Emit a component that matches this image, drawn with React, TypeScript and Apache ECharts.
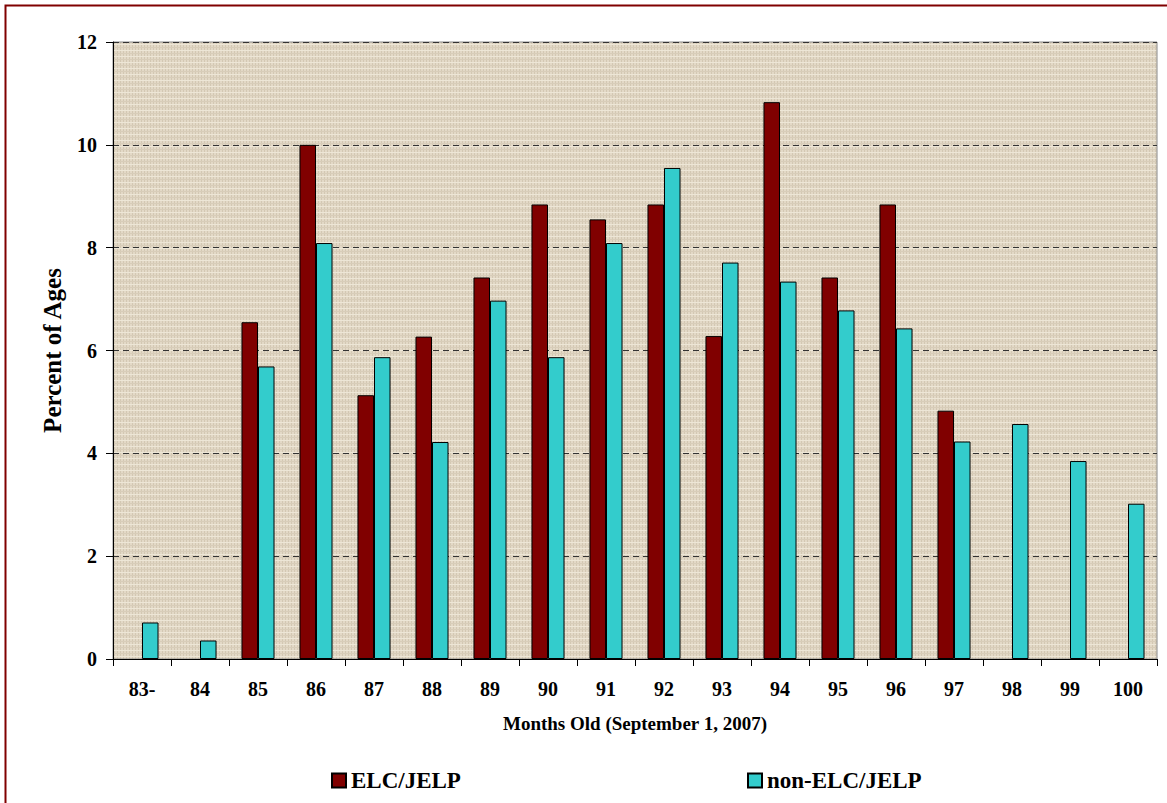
import React, { useEffect, useRef } from "react";
import * as echarts from "echarts";

const categories = ["83-", "84", "85", "86", "87", "88", "89", "90", "91", "92", "93", "94", "95", "96", "97", "98", "99", "100"];
const elcValues: (number | null)[] = [null, null, 6.55, 10.0, 5.13, 6.27, 7.42, 8.84, 8.55, 8.84, 6.28, 10.83, 7.42, 8.84, 4.83, null, null, null];
const nonElcValues: number[] = [0.71, 0.36, 5.69, 8.09, 5.87, 4.22, 6.97, 5.87, 8.09, 9.55, 7.71, 7.34, 6.78, 6.43, 4.23, 4.57, 3.85, 3.02];
const yTicks = { min: 0, max: 12, interval: 2 };
const seriesNames = ["ELC/JELP", "non-ELC/JELP"];
const xAxisTitle = "Months Old (September 1, 2007)";
const yAxisTitle = "Percent of Ages";

const FONT = "'Liberation Serif', 'Times New Roman', serif";

function makeTexture(): HTMLCanvasElement | string {
  try {
    const c = document.createElement("canvas");
    c.width = 6;
    c.height = 6;
    const ctx = c.getContext("2d");
    if (!ctx) return "#E2D8C5";
    ctx.fillStyle = "#E3D9C7";
    ctx.fillRect(0, 0, 6, 6);
    ctx.fillStyle = "#D3C8B3";
    ctx.fillRect(0, 0, 1, 6);
    ctx.fillRect(3, 0, 1, 6);
    ctx.fillStyle = "#EDE6D6";
    ctx.fillRect(0, 2, 6, 1);
    ctx.fillStyle = "#D8CDB9";
    ctx.fillRect(0, 5, 6, 1);
    return c;
  } catch (e) {
    return "#E2D8C5";
  }
}

export default function App() {
  const ref = useRef<HTMLDivElement>(null);
  useEffect(() => {
    if (!ref.current) return;
    const chart = echarts.init(ref.current, null, { renderer: "svg" });
    const tex = makeTexture();
    const bg = typeof tex === "string" ? tex : { image: tex, repeat: "repeat" };
    chart.setOption({
      animation: false,
      backgroundColor: "#ffffff",
      textStyle: { fontFamily: FONT },
      graphic: [
        {
          type: "rect",
          shape: { x: 5.5, y: 5.5, width: 1300, height: 1000 },
          style: { fill: "none", stroke: "#800000", lineWidth: 2 },
          silent: true,
          z: 100,
        },
      ],
      grid: {
        left: 113,
        right: 10,
        top: 42,
        bottom: 144,
        show: true,
        backgroundColor: bg,
        borderColor: "#888888",
        borderWidth: 1,
      },
      legend: [
        {
          data: [seriesNames[0]],
          left: 326,
          top: 764,
          itemWidth: 14,
          itemHeight: 14,
          icon: "rect",
          textStyle: { fontFamily: FONT, fontWeight: "bold", fontSize: 23, color: "#000" },
          itemGap: 6,
        },
        {
          data: [seriesNames[1]],
          left: 742,
          top: 764,
          itemWidth: 14,
          itemHeight: 14,
          icon: "rect",
          textStyle: { fontFamily: FONT, fontWeight: "bold", fontSize: 23, color: "#000" },
          itemGap: 6,
        },
      ],
      xAxis: {
        type: "category",
        data: categories,
        name: xAxisTitle,
        nameLocation: "middle",
        nameGap: 55,
        nameTextStyle: { fontFamily: FONT, fontWeight: "bold", fontSize: 19, color: "#000" },
        axisLine: { lineStyle: { color: "#000", width: 1 } },
        axisTick: { show: true, alignWithLabel: false, length: 7, lineStyle: { color: "#000" } },
        axisLabel: { fontFamily: FONT, fontWeight: "bold", fontSize: 20, color: "#000", margin: 20, interval: 0 },
        splitLine: { show: false },
      },
      yAxis: {
        type: "value",
        min: yTicks.min,
        max: yTicks.max,
        interval: yTicks.interval,
        name: yAxisTitle,
        nameLocation: "middle",
        nameGap: 48,
        nameTextStyle: { fontFamily: FONT, fontWeight: "bold", fontSize: 25, color: "#000" },
        axisLine: { show: true, lineStyle: { color: "#000", width: 1 } },
        axisTick: { show: true, length: 7, lineStyle: { color: "#000" } },
        axisLabel: { fontFamily: FONT, fontWeight: "bold", fontSize: 20, color: "#000", margin: 16 },
        splitLine: { show: true, lineStyle: { color: "#333333", type: [6, 4], width: 1 } },
      },
      series: [
        {
          name: seriesNames[0],
          type: "bar",
          data: elcValues,
          barGap: "0%",
          barCategoryGap: "43%",
          itemStyle: { color: "#800000", borderColor: "#000", borderWidth: 1 },
        },
        {
          name: seriesNames[1],
          type: "bar",
          data: nonElcValues,
          barGap: "0%",
          barCategoryGap: "43%",
          itemStyle: { color: "#33CCCC", borderColor: "#000", borderWidth: 1 },
        },
      ],
    });
    return () => chart.dispose();
  }, []);
  return (
    <div
      ref={ref}
      style={{ position: "absolute", left: 0, top: 0, width: 1167, height: 803 }}
    />
  );
}
